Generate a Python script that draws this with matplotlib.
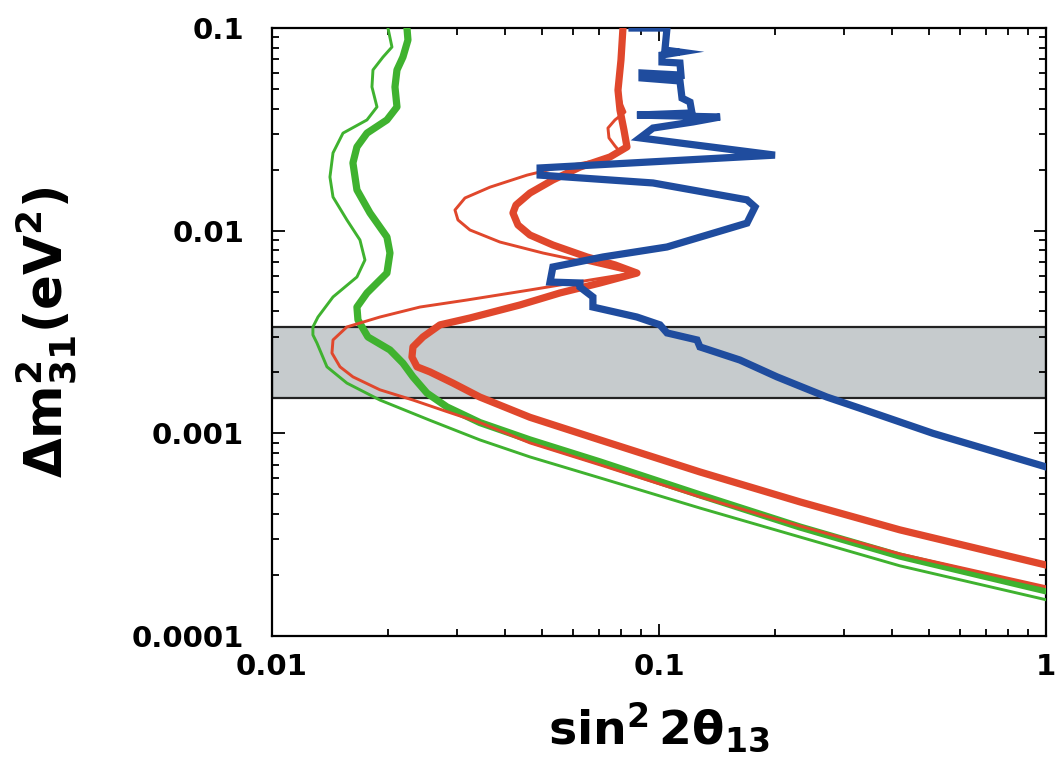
import matplotlib.pyplot as plt

plt.rcParams['font.family'] = ['DejaVu Sans']
plt.rcParams['mathtext.fontset'] = 'dejavusans'
plt.rcParams['mathtext.default'] = 'bf'

# allowed region (gray band)
band_lo, band_hi = 0.0015, 0.00335

# green, thin
g1_x = [0.01994, 0.02042, 0.01936, 0.01824, 0.01813, 0.01868, 0.01760, 0.01526, 0.01438,
        0.01412, 0.01438, 0.01562, 0.01688, 0.01739, 0.01658, 0.01438, 0.01315, 0.01276,
        0.01276, 0.01307, 0.01387, 0.01562, 0.01901, 0.02560, 0.03447, 0.04642, 0.0704,
        0.1276, 0.2314, 0.4193, 1.0]
g1_y = [0.1, 0.0806, 0.0719, 0.0621, 0.0512, 0.0408, 0.0352, 0.0303, 0.0242,
        0.0184, 0.01466, 0.0113, 0.00900, 0.00717, 0.00591, 0.00471, 0.00375, 0.00335,
        0.00306, 0.00279, 0.00213, 0.00177, 0.00146, 0.00116, 0.000928, 0.000765, 0.000603,
        0.000428, 0.000308, 0.000222, 0.000151]

# green, thick
g2_x = [0.02233, 0.02246, 0.02180, 0.02104, 0.02079, 0.02104, 0.01982, 0.01760, 0.01658,
        0.01619, 0.01658, 0.01792, 0.01982, 0.02018, 0.01982, 0.01760, 0.01658, 0.01668,
        0.01770, 0.02018, 0.02180, 0.02314, 0.02515, 0.02833, 0.03447, 0.04642, 0.0704,
        0.1276, 0.2314, 0.4193, 1.0]
g2_y = [0.1, 0.0873, 0.0719, 0.0621, 0.0512, 0.0408, 0.0352, 0.0303, 0.0259,
        0.0216, 0.0159, 0.01223, 0.00931, 0.00776, 0.00618, 0.00493, 0.00420, 0.00363,
        0.00299, 0.00258, 0.00222, 0.00190, 0.00158, 0.00135, 0.00113, 0.000928, 0.000723,
        0.000497, 0.000345, 0.000248, 0.000167]

# red, thin
r1_x = [0.08072, 0.07977, 0.07836, 0.08024, 0.08169, 0.07697, 0.07383, 0.07427, 0.07697,
        0.07929, 0.0704, 0.05549, 0.04560, 0.03659, 0.03153, 0.02971, 0.03024, 0.03248,
        0.03883, 0.05015, 0.06633, 0.08567, 0.06633, 0.04642, 0.03191, 0.02412, 0.01901,
        0.01562, 0.01438, 0.01429, 0.01499, 0.01619, 0.01901, 0.02314, 0.02833, 0.03447,
        0.04642, 0.0704, 0.1276, 0.2314, 0.4193, 1.0]
r1_y = [0.1, 0.0695, 0.0494, 0.0417, 0.0385, 0.0352, 0.0321, 0.0287, 0.0262,
        0.0245, 0.0223, 0.0206, 0.0188, 0.0164, 0.0145, 0.01265, 0.0113, 0.01008,
        0.00879, 0.00776, 0.00693, 0.00618, 0.00571, 0.00510, 0.00455, 0.00420, 0.00375,
        0.00335, 0.00289, 0.00249, 0.00213, 0.00190, 0.00164, 0.00146, 0.00128, 0.00113,
        0.000897, 0.000699, 0.000486, 0.000349, 0.000254, 0.000175]

# red, thick
r2_x = [0.08072, 0.07977, 0.07836, 0.07929, 0.08120, 0.08267, 0.0747, 0.0625, 0.0532,
        0.04642, 0.04271, 0.04195, 0.04322, 0.04642, 0.0532, 0.06516, 0.07697, 0.08774,
        0.0704, 0.05549, 0.04373, 0.03248, 0.02717, 0.02456, 0.02314, 0.02300, 0.02370,
        0.02560, 0.02936, 0.03447, 0.04642, 0.0704, 0.1276, 0.2314, 0.4193, 1.0]
r2_y = [0.1, 0.0695, 0.0494, 0.0394, 0.0314, 0.0259, 0.0231, 0.0206, 0.0178,
        0.01534, 0.01339, 0.01223, 0.01067, 0.00952, 0.00850, 0.00742, 0.00678, 0.00618,
        0.00552, 0.00493, 0.00430, 0.00371, 0.00343, 0.00299, 0.00267, 0.00238, 0.00213,
        0.00201, 0.00177, 0.00151, 0.00120, 0.000928, 0.000645, 0.000459, 0.000334, 0.000224]

# blue
b_x = [0.0852, 0.1049, 0.1036, 0.1133, 0.1018, 0.1018, 0.1133, 0.1140, 0.0904,
       0.0904, 0.1133, 0.1147, 0.1203, 0.1217, 0.0877, 0.1438, 0.1224, 0.0965, 0.0893,
       0.1994, 0.0493, 0.0493, 0.0965, 0.1688, 0.1771, 0.1688, 0.1049, 0.0717, 0.0532,
       0.0523, 0.0625, 0.0625, 0.0675, 0.0675, 0.0877, 0.1006, 0.1049, 0.1254, 0.1276,
       0.1619, 0.2018, 0.2717, 0.3306, 0.5106, 1.0]
b_y = [0.1, 0.1, 0.0779, 0.0761, 0.0736, 0.0680, 0.0672, 0.0586, 0.0600,
       0.0567, 0.0548, 0.0451, 0.0431, 0.0381, 0.0372, 0.0364, 0.0344, 0.0321, 0.0287,
       0.0236, 0.0204, 0.0188, 0.0172, 0.0142, 0.0131, 0.0109, 0.00831, 0.00742, 0.00662,
       0.00558, 0.00552, 0.00527, 0.00471, 0.00420, 0.00375, 0.00343, 0.00313, 0.00289, 0.00267,
       0.00230, 0.00190, 0.00151, 0.00133, 0.00100, 0.000683]

green = '#3fb22f'
red = '#e0472c'
blue = '#1f4c9e'

fig = plt.figure(figsize=(10.59, 7.66), dpi=100)
ax = fig.add_axes([0.2568, 0.1697, 0.7309, 0.7937])

ax.axhspan(band_lo, band_hi, facecolor='#c6cbcd', edgecolor='#222222', lw=1.6, zorder=1)

ax.plot(g1_x, g1_y, color=green, lw=2.1, zorder=3, solid_joinstyle='round')
ax.plot(g2_x, g2_y, color=green, lw=5.2, zorder=3, solid_joinstyle='round')
ax.plot(r1_x, r1_y, color=red, lw=2.1, zorder=4, solid_joinstyle='round')
ax.plot(r2_x, r2_y, color=red, lw=5.2, zorder=4, solid_joinstyle='round')
ax.plot(b_x, b_y, color=blue, lw=5.2, zorder=5, solid_joinstyle='miter')

ax.set_xscale('log')
ax.set_yscale('log')
ax.set_xlim(0.01, 1)
ax.set_ylim(0.0001, 0.1)

ax.set_xticks([0.01, 0.1, 1])
ax.set_xticklabels(['0.01', '0.1', '1'])
ax.set_yticks([0.0001, 0.001, 0.01, 0.1])
ax.set_yticklabels(['0.0001', '0.001', '0.01', '0.1'])

ax.tick_params(which='both', direction='in', top=True, right=True, width=1.3)
ax.tick_params(which='major', length=9)
ax.tick_params(which='minor', length=5)
ax.tick_params(axis='y', which='major', pad=20, labelsize=21)
ax.tick_params(axis='x', which='major', pad=12, labelsize=21)
for lab in ax.get_xticklabels() + ax.get_yticklabels():
    lab.set_fontweight('bold')
for sp in ax.spines.values():
    sp.set_linewidth(1.6)

ax.set_xlabel(r'$sin^2\,2\theta_{13}$', fontsize=34, labelpad=14)
ax.set_ylabel(r'$\Delta m^2_{31}(eV^2)$', fontsize=37, labelpad=38)

fig.savefig('out.png', dpi=100)
